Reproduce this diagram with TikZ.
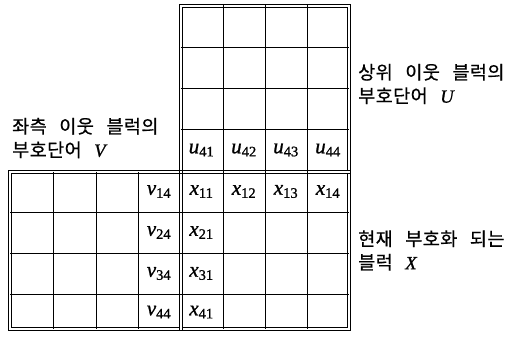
\documentclass[tikz,border=0pt]{standalone}
\usepackage{fontspec}
\newfontfamily\kr[LetterSpace=2,FakeBold=0.6]{Noto Sans CJK KR}
\newfontfamily\tm[FakeBold=1]{Liberation Serif}
\newcommand\krfontsetup{\fontsize{18.6}{23.5}\selectfont\kr\spaceskip=12.5pt plus 0pt minus 0pt\relax}
\newcommand\mysym[2]{\mbox{\tm\itshape #1}$_{\mbox{\tm\fontsize{14.5}{14.5}\selectfont #2}}$}
\newcommand\myletter[1]{\mbox{\tm\itshape #1}}
\begin{document}
\begin{tikzpicture}[x=1pt,y=-1pt,
  gridline/.style={line width=0.75pt},
  borderline/.style={line width=0.75pt},
  lab/.style={inner sep=0pt,font=\fontsize{21}{21}\selectfont},
  krlab/.style={inner sep=0pt,align=left,anchor=west,font=\krfontsetup}]
\useasboundingbox (0,0) rectangle (508,337);
% U block grid
\foreach \x in {223,265,307} \draw[gridline] (\x,5.5) -- (\x,171.5);
\foreach \y in {47,88,129} \draw[gridline] (180.5,\y) -- (348.5,\y);
% X block grid
\foreach \x in {223,265,307} \draw[gridline] (\x,171.5) -- (\x,328.5);
\foreach \y in {212,253,294} \draw[gridline] (180.5,\y) -- (348.5,\y);
% V block grid
\foreach \x in {53,96,138} \draw[gridline] (\x,171.5) -- (\x,328.5);
\foreach \y in {212,253,294} \draw[gridline] (10,\y) -- (180.5,\y);
% double borders (outer and inner line of each block)
\foreach \ax/\ay/\bx/\by in {180.5/5.5/348.5/171.5, 180.5/171.5/348.5/328.5, 10/171.5/180.5/328.5}{
  \draw[borderline] (\ax-1.6,\ay-1.6) rectangle (\bx+1.6,\by+1.6);
  \draw[borderline] (\ax+1.6,\ay+1.6) rectangle (\bx-1.6,\by-1.6);
}
% U labels
\node[lab] (u41) at (201.5,150) {\mysym{u}{41}};
\node[lab] (u42) at (244,150) {\mysym{u}{42}};
\node[lab] (u43) at (286,150) {\mysym{u}{43}};
\node[lab] (u44) at (328,150) {\mysym{u}{44}};
% X labels
\node[lab] (x11) at (201.5,191.5) {\mysym{x}{11}};
\node[lab] (x12) at (244,191.5) {\mysym{x}{12}};
\node[lab] (x13) at (286,191.5) {\mysym{x}{13}};
\node[lab] (x14) at (328,191.5) {\mysym{x}{14}};
\node[lab] (x21) at (201.5,232.5) {\mysym{x}{21}};
\node[lab] (x31) at (201.5,273.5) {\mysym{x}{31}};
\node[lab] (x41) at (201.5,312) {\mysym{x}{41}};
% V labels
\node[lab] (v14) at (159,191.5) {\mysym{v}{14}};
\node[lab] (v24) at (159,232.5) {\mysym{v}{24}};
\node[lab] (v34) at (159,273.5) {\mysym{v}{34}};
\node[lab] (v44) at (159,312) {\mysym{v}{44}};
% side texts
\node[krlab] (vtext) at (12,138) {좌측 이웃 블럭의\\부호단어 \myletter{V}};
\node[krlab] (utext) at (358,84) {상위 이웃 블럭의\\부호단어 \myletter{U}};
\node[krlab] (xtext) at (358,250.5) {현재 부호화 되는\\블럭 \myletter{X}};
\end{tikzpicture}
\end{document}
